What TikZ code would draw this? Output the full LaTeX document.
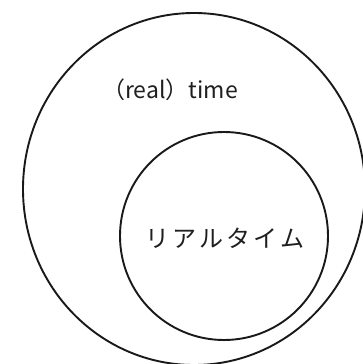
\documentclass[tikz,border=0pt]{standalone}
\usepackage{fontspec}
\newfontfamily\cjk{Noto Sans CJK JP}
\begin{document}
\begin{tikzpicture}[x=1pt,y=-1pt,
  ring/.style={draw=black!90,line width=1.9pt},
  lbl/.style={font=\cjk\fontsize{23}{26}\selectfont,text=black!88,inner sep=0pt}]
\useasboundingbox (0,0) rectangle (363,364);
\begin{scope}
\clip (0,0) rectangle (363,364);
\draw[ring] (194,189) ellipse [x radius=171, y radius=176];
\draw[ring] (224,236) circle [radius=104];
\end{scope}
\node[lbl,anchor=base] (outer) at (170,98) {（real）time};
\node[lbl,font=\cjk\fontsize{24}{26}\selectfont] (inner) at (225,238) {リ\hspace{3pt}ア\hspace{3pt}ル\hspace{3pt}タ\hspace{3pt}イ\hspace{3pt}ム};
\end{tikzpicture}
\end{document}
